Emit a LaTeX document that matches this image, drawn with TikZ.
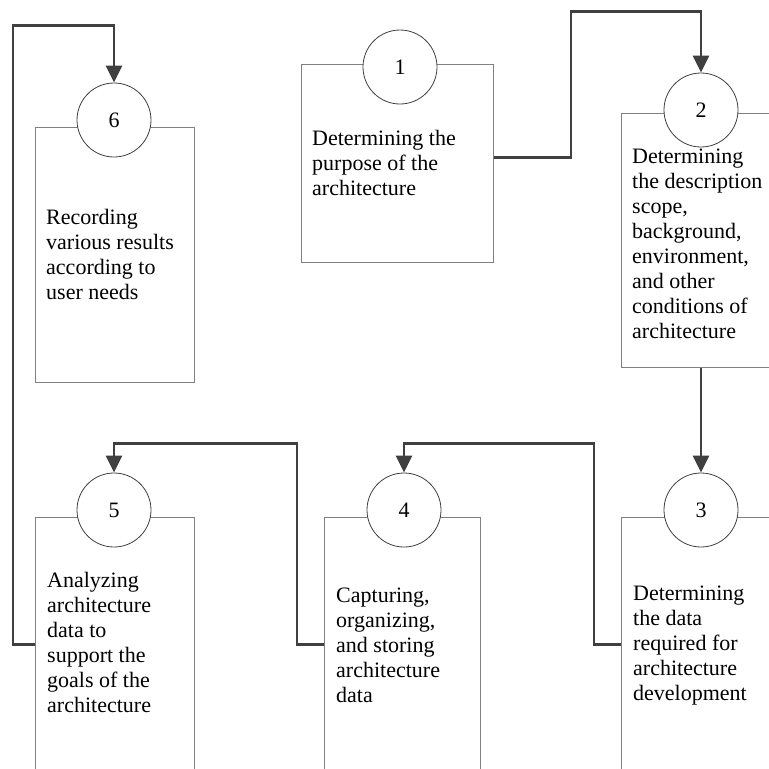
\documentclass[tikz,border=0pt]{standalone}
\usepackage{fontspec}
\setmainfont{Liberation Serif}
\usetikzlibrary{arrows.meta,calc}
\definecolor{linegray}{HTML}{808080}
\definecolor{conngray}{HTML}{404040}
\tikzset{
  boxshape/.style={draw=linegray, line width=1pt, rectangle, inner sep=0pt, fill=none},
  numcircle/.style={draw=conngray, line width=0.8pt, circle, fill=white, minimum size=74pt, inner sep=0pt, font=\fontsize{22pt}{25pt}\selectfont},
  txt/.style={anchor=north west, inner sep=0pt, align=left, font=\fontsize{22pt}{25pt}\selectfont},
  conn/.style={draw=conngray, line width=2.6pt, -{Triangle[length=17pt,width=16pt]}}
}
\begin{document}
\begin{tikzpicture}[x=1pt,y=-1pt]
\useasboundingbox (0,0) rectangle (769,769);
\clip (0,0) rectangle (769,769);
% boxes
\node[boxshape, anchor=north west, minimum width=159pt, minimum height=255pt] (b6) at (35,127) {};
\node[boxshape, anchor=north west, minimum width=192pt, minimum height=198pt] (b1) at (301,64) {};
\node[boxshape, anchor=north west, minimum width=180pt, minimum height=254pt] (b2) at (621,113) {};
\node[boxshape, anchor=north west, minimum width=180pt, minimum height=254pt] (b3) at (621,517) {};
\node[boxshape, anchor=north west, minimum width=156pt, minimum height=254pt] (b4) at (324,517) {};
\node[boxshape, anchor=north west, minimum width=159pt, minimum height=254pt] (b5) at (35,517) {};
% circles
\node[numcircle] (c6) at (114,120) {6};
\node[numcircle] (c1) at (400,67) {1};
\node[numcircle] (c2) at (701,110) {2};
\node[numcircle] (c3) at (701,510) {3};
\node[numcircle] (c4) at (404,510) {4};
\node[numcircle] (c5) at (114,510) {5};
% texts
\node[txt] (t6) at (46,208) {\rule{0pt}{16pt}Recording\\various results\\according to\\user needs};
\node[txt] (t1) at (312,129) {\rule{0pt}{16pt}Determining the\\purpose of the\\architecture};
\node[txt] (t2) at (632,147) {\rule{0pt}{16pt}Determining\\the description\\scope,\\background,\\environment,\\and other\\conditions of\\architecture};
\node[txt] (t3) at (633,584) {\rule{0pt}{16pt}Determining\\the data\\required for\\architecture\\development};
\node[txt] (t4) at (336,586) {\rule{0pt}{16pt}Capturing,\\organizing,\\and storing\\architecture\\data};
\node[txt] (t5) at (47,571) {\rule{0pt}{16pt}Analyzing\\architecture\\data to\\support the\\goals of the\\architecture};
% connectors
\draw[conn] ([yshift=6pt]b1.east) -- ++(77,0) |- ([yshift=61pt]c2.north) -- (c2.north);
\draw[conn] (b2.south -| c2.center) -- (c3.north);
\draw[conn] (b3.west) -- ++(-27,0) |- ([yshift=29pt]c4.north) -- (c4.north);
\draw[conn] (b4.west) -- ++(-27,0) |- ([yshift=29pt]c5.north) -- (c5.north);
\draw[conn] (b5.west) -- ++(-22,0) |- ([yshift=57pt]c6.north) -- (c6.north);
\end{tikzpicture}
\end{document}
